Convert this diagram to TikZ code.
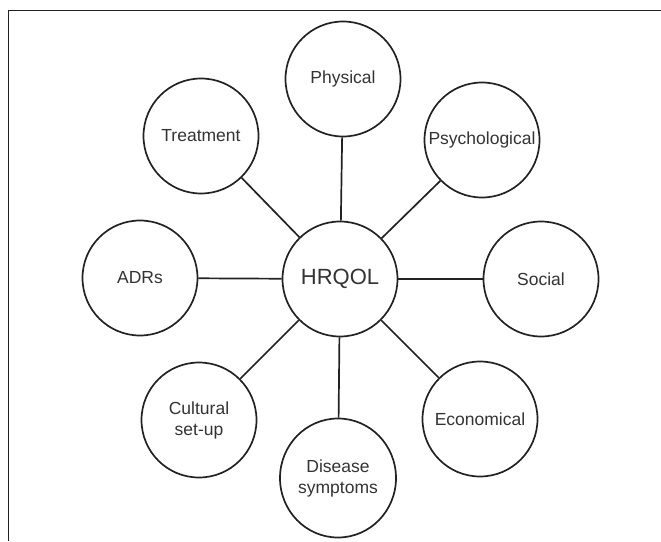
\documentclass[tikz,border=0pt]{standalone}
\usepackage{fontspec}
\setmainfont{Liberation Sans}
\usetikzlibrary{shapes}

\definecolor{inkgray}{HTML}{333333}
\definecolor{linegray}{HTML}{222222}

\begin{document}
\begin{tikzpicture}[x=1pt,y=-1pt,
  aspect/.style={draw=linegray, circle, line width=1.7pt, minimum size=115pt,
    inner sep=0pt, align=center, text=inkgray, font=\fontsize{17.5}{21}\selectfont},
  spoke/.style={draw=linegray, line width=1.7pt}]
\useasboundingbox (0,0) rectangle (661,541);
\draw[line width=1pt, linegray] (661,10) -- (8,10) -- (8,541);
% hub
\node[aspect, font=\fontsize{22}{26}\selectfont] (hrqol) at (340,279) {HRQOL};
% dimensions round the hub
\node[aspect] (physical) at (343,79) {Physical};
\node[aspect] (psych) at (482,140) {Psychological};
\node[aspect] (social) at (541,279) {Social};
\node[aspect] (econ) at (480,419) {Economical};
\node[aspect, ellipse, minimum size=0pt, minimum width=116pt, minimum height=119pt] (disease) at (338,478) {Disease\\symptoms};
\node[aspect] (cultural) at (199,420) {Cultural\\set-up};
\node[aspect] (adrs) at (140,278) {ADRs};
\node[aspect] (treatment) at (201,136) {Treatment};
% spokes
\draw[spoke] (hrqol) -- (physical);
\draw[spoke] (hrqol) -- (psych);
\draw[spoke] (hrqol) -- (social);
\draw[spoke] (hrqol) -- (econ);
\draw[spoke] (hrqol) -- (disease);
\draw[spoke] (hrqol) -- (cultural);
\draw[spoke] (hrqol) -- (adrs);
\draw[spoke] (hrqol) -- (treatment);
\end{tikzpicture}
\end{document}
